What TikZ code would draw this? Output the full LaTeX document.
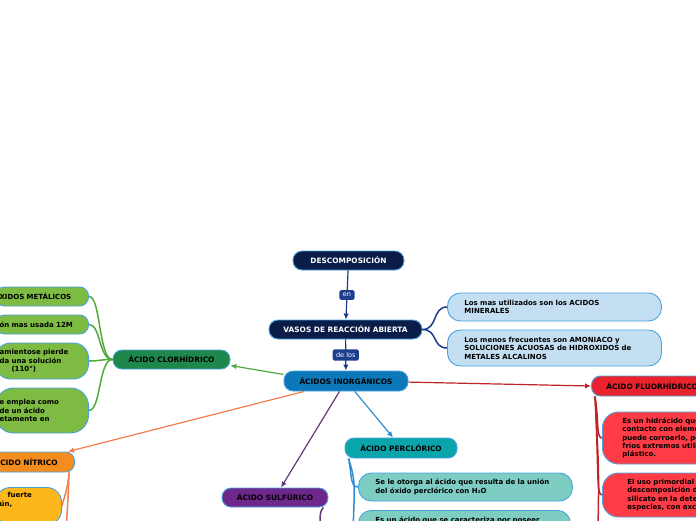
\documentclass[tikz,border=0pt]{standalone}
\usepackage{fontspec}
\setmainfont{DejaVu Sans}
\usetikzlibrary{arrows.meta}
\definecolor{mapNavy}{RGB}{10, 28, 72}
\definecolor{mapNavyLine}{RGB}{28, 58, 140}
\definecolor{mapTag}{RGB}{30, 62, 142}
\definecolor{mapEdge}{RGB}{74, 163, 223}
\definecolor{inorgBlue}{RGB}{12, 120, 185}
\definecolor{noteBlue}{RGB}{197, 223, 242}
\definecolor{clorGreen}{RGB}{30, 135, 75}
\definecolor{clorLine}{RGB}{80, 170, 60}
\definecolor{noteGreen}{RGB}{125, 187, 66}
\definecolor{nitOrange}{RGB}{245, 140, 30}
\definecolor{nitLine}{RGB}{240, 125, 75}
\definecolor{noteYellow}{RGB}{252, 183, 26}
\definecolor{sulPurple}{RGB}{110, 40, 140}
\definecolor{sulLine}{RGB}{100, 55, 120}
\definecolor{percTeal}{RGB}{10, 165, 170}
\definecolor{percLine}{RGB}{50, 140, 210}
\definecolor{noteTeal}{RGB}{125, 205, 195}
\definecolor{fluRed}{RGB}{232, 35, 45}
\definecolor{fluLine}{RGB}{190, 35, 40}
\definecolor{noteRed}{RGB}{255, 60, 70}

\begin{document}
\begin{tikzpicture}[x=1pt, y=-1pt,
    topic/.style={rectangle, rounded corners=9pt, draw=mapEdge, line width=0.9pt,
        minimum height=19pt, inner xsep=6pt, font=\fontsize{7.4}{8.4}\selectfont\bfseries},
    note/.style={rectangle, rounded corners=13pt, draw=mapEdge, line width=0.9pt,
        align=left, font=\fontsize{7}{8.4}\selectfont\bfseries},
    tag/.style={rectangle, rounded corners=1.5pt, fill=mapTag, text=white,
        inner xsep=3.5pt, inner ysep=3pt, font=\fontsize{6.5}{7.5}\selectfont},
    link/.style={line width=1.2pt, -{Latex[length=6pt,width=5.5pt]}},
    branch/.style={line width=1.5pt}]
    \useasboundingbox (0,0) rectangle (696,520);
    \clip (0,0) rectangle (696,520);

    % centre
    \node[topic, fill=mapNavy, text=white, minimum width=111pt] (desc) at (348.5,260.5) {DESCOMPOSICIÓN};
    \node[topic, fill=mapNavy, text=white, minimum width=153pt] (vasos) at (345.5,329.5) {VASOS DE REACCIÓN ABIERTA};
    \node[topic, fill=inorgBlue, minimum width=124pt, minimum height=20pt] (inorg) at (346,381) {ÁCIDOS INORGÁNICOS};
    \draw[link, mapNavyLine] (desc) -- node[tag] (en) {en} (vasos);
    \draw[link, mapNavyLine] (vasos) -- node[tag] (delos) {de los} (inorg);

    % vasos notes
    \node[note, fill=noteBlue, anchor=west, text width=180pt, inner xsep=17pt, minimum height=28pt] (mas) at (447,307)
        {Los mas utilizados son los ACIDOS\\MINERALES};
    \node[note, fill=noteBlue, anchor=west, text width=180pt, inner xsep=17pt, minimum height=36pt] (menos) at (447,348)
        {Los menos frecuentes son AMONIACO y\\SOLUCIONES ACUOSAS de HIDROXIDOS de\\METALES ALCALINOS};
    \draw[branch, mapNavyLine] (vasos.east) .. controls (438,329.5) and (432,307) .. (mas.west);
    \draw[branch, mapNavyLine] (vasos.east) .. controls (438,329.5) and (432,348) .. (menos.west);

    % clorhidrico
    \node[topic, fill=clorGreen, minimum width=117pt] (clor) at (171.5,359.5) {ÁCIDO CLORHÍDRICO};
    \draw[link, clorLine] (inorg.174) -- ([yshift=-6pt]clor.east);
    \node[note, fill=noteGreen, anchor=east, text width=85pt, inner xsep=4pt, minimum height=19pt, rounded corners=9pt] (g1) at (89,296.5)
        {XIDOS METÁLICOS};
    \node[note, fill=noteGreen, anchor=east, text width=85pt, inner xsep=4pt, minimum height=19pt, rounded corners=9pt] (g2) at (89,324.5)
        {ón mas usada 12M};
    \node[note, fill=noteGreen, anchor=east, text width=85pt, inner xsep=4pt, minimum height=36pt, rounded corners=15pt] (g3) at (89,361)
        {amientose pierde\\da una solución\\\hspace*{12pt}(110°)};
    \node[note, fill=noteGreen, anchor=east, text width=85pt, inner xsep=4pt, minimum height=45pt, rounded corners=18pt] (g4) at (89,410.5)
        {e emplea como\\de un ácido\\etamente en};
    \foreach \n in {g1,g2,g3,g4}
        \draw[branch, clorLine] (clor.west) .. controls +(-14,0) and +(12,0) .. (\n.east);

    % nitrico
    \node[topic, fill=nitOrange, anchor=east, text width=90pt, align=right, inner xsep=17pt, minimum height=20pt] (nit) at (75,462) {ÁCIDO NÍTRICO};
    \draw[link, nitLine] (inorg.194) -- ([xshift=-7pt]nit.north east);
    \node[note, fill=noteYellow, anchor=north east, text width=58pt, inner xsep=4pt, inner ysep=5pt, text depth=22pt, rounded corners=15pt] (yel) at (62,487)
        {\hspace*{8pt}fuerte\\ún,};
    \coordinate (nitdown) at (66,530);
    \draw[branch, nitLine] ([xshift=-6pt]nit.south east) .. controls (68,490) and (63,500) .. (yel.east);
    \draw[branch, nitLine] ([xshift=-6pt]nit.south east) .. controls (68,500) .. (nitdown);

    % sulfurico
    \node[topic, fill=sulPurple, minimum width=106pt] (sulf) at (275,497.5) {ÁCIDO SULFÚRICO};
    \draw[link, sulLine] (inorg.238) -- ([xshift=6pt]sulf.north);
    \coordinate (sulfdown) at (320,530);
    \draw[branch, sulLine] ([xshift=-5pt]sulf.south east) .. controls (320,512) .. (sulfdown);

    % perclorico
    \node[topic, fill=percTeal, minimum width=112pt, minimum height=20pt] (perc) at (401,448) {ÁCIDO PERCLÓRICO};
    \draw[link, percLine] (inorg.310) -- ([xshift=-8pt]perc.north);
    \node[note, fill=noteTeal, anchor=west, text width=180pt, inner xsep=17pt, minimum height=28pt] (p1) at (358,487)
        {Se le otorga al ácido que resulta de la unión\\del óxido perclórico con H₂O};
    \node[note, fill=noteTeal, anchor=north west, text width=178pt, inner xsep=17pt, inner ysep=6pt, text depth=20pt] (p2) at (358,510)
        {Es un ácido que se caracteriza por poseer};
    \coordinate (percdown) at (353,530);
    \draw[branch, percLine] ([xshift=4pt]perc.south west) .. controls (352,475) and (350,487) .. (p1.west);
    \draw[branch, percLine] ([xshift=4pt]perc.south west) .. controls (355,480) .. (percdown);

    % fluorhidrico
    \node[topic, fill=fluRed, anchor=west, text width=110pt, align=left, inner xsep=15pt, minimum height=20pt] (flu) at (591,386) {ÁCIDO FLUORHÍDRICO};
    \draw[link, fluLine] (inorg.359) -- (flu.west);
    \node[note, fill=noteRed, anchor=west, text width=110pt, inner xsep=20pt, minimum height=52pt, rounded corners=16pt] (r1) at (602,438)
        {Es un hidrácido que\\contacto con eleme\\puede corroerlo, po\\fríos extremos utili\\plástico.};
    \node[note, fill=noteRed, anchor=west, text width=110pt, inner xsep=25pt, minimum height=44pt, rounded corners=16pt] (r2) at (602,495)
        {El uso primordial\\descomposición d\\silicato en la dete\\especies, con exce};
    \coordinate (fludown) at (598,530);
    \draw[branch, fluLine] ([xshift=4pt]flu.south west) .. controls (599,420) and (596,438) .. (r1.west);
    \draw[branch, fluLine] ([xshift=4pt]flu.south west) .. controls (599,470) and (596,495) .. (r2.west);
    \draw[branch, fluLine] ([xshift=4pt]flu.south west) .. controls (599,470) .. (fludown);
\end{tikzpicture}
\end{document}
